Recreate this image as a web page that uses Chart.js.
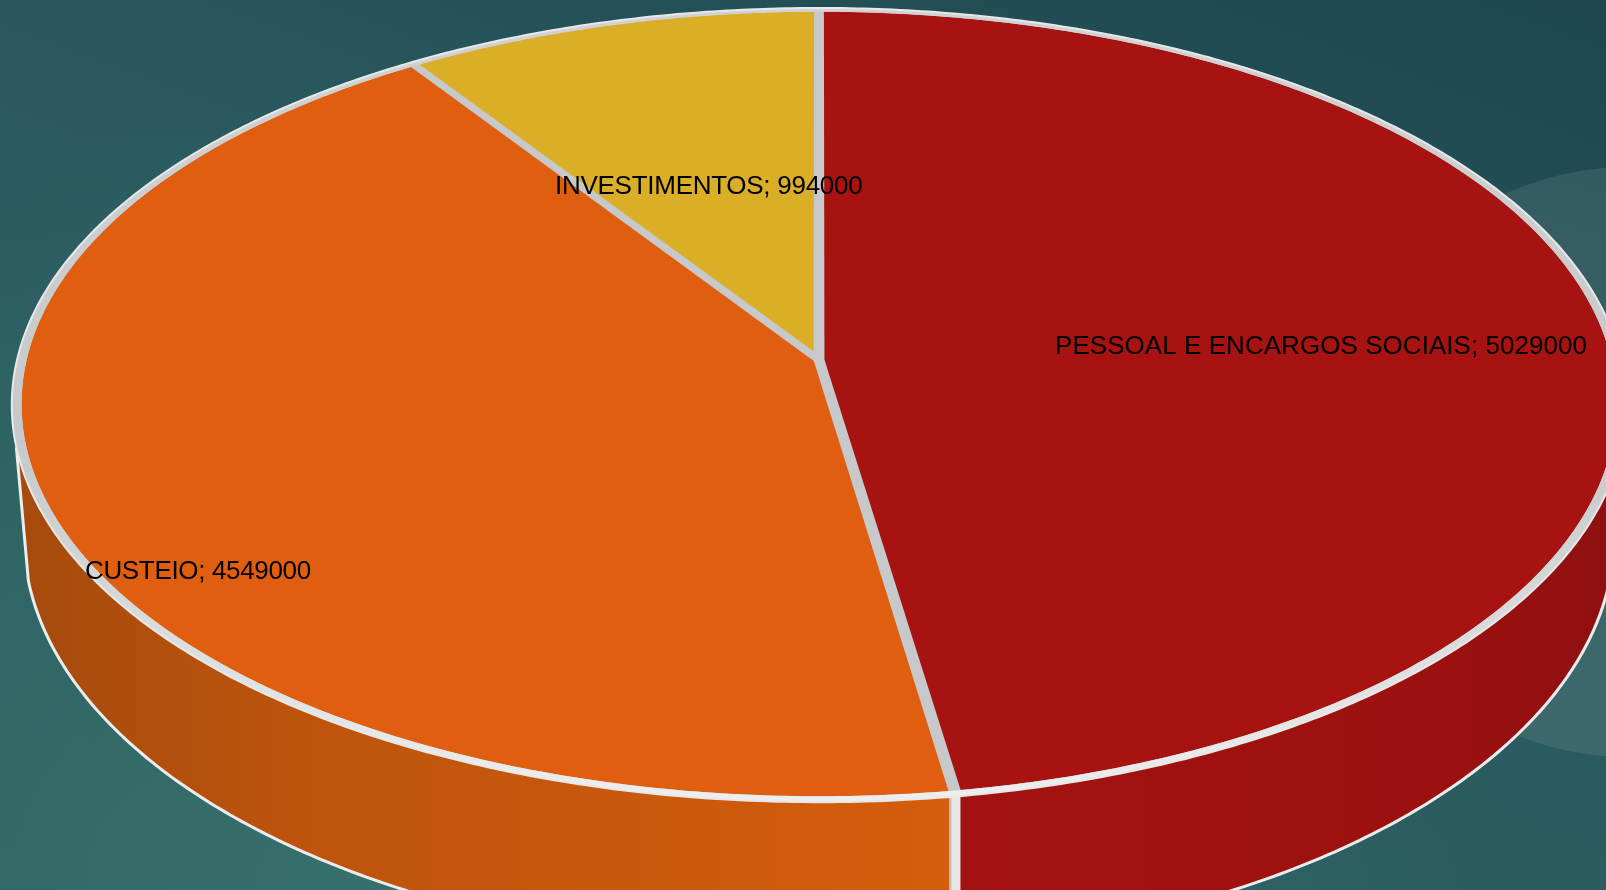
<!DOCTYPE html>
<html><head><meta charset="utf-8">
<script src="https://cdn.jsdelivr.net/npm/chart.js@4"></script>
<style>
html,body{margin:0;padding:0;width:1606px;height:890px;overflow:hidden}
body{position:relative;background:
 radial-gradient(ellipse 1100px 800px at 420px 900px,#36706c 0%,rgba(54,112,108,0) 100%),
 linear-gradient(200deg,#1d464e 0%,#2a5a5f 45%,#2c6062 100%)}
#blob{position:absolute;left:1333px;top:167px;width:590px;height:590px;border-radius:50%;background:rgba(255,255,255,.085)}
canvas{position:absolute;left:0;top:0}
</style></head><body>
<div id="blob"></div>
<canvas id="c" width="1606" height="890"></canvas>
<script>
const categories = ["PESSOAL E ENCARGOS SOCIAIS", "CUSTEIO", "INVESTIMENTOS"];
const values = [5029000, 4549000, 994000];
const sliceColors = ["#a61311", "#e05e10", "#dbae28"];

const TOP = {cx:819, y0:360, R:802, Rs:392, p:0.1135};
const BASE = {cx:819, y0:489.6, R:790, Rs:408.8, p:0.1135};
const project = (g,r,a)=>{const X=r*Math.cos(a),Y=r*Math.sin(a),w=1-g.p*Y;
  return [g.cx+g.R*X/w, g.y0+g.Rs*Y/w];};
const arcPts=(g,r,a0,a1)=>{const n=Math.max(2,Math.ceil(Math.abs(a1-a0)/0.01)),o=[];
  for(let i=0;i<=n;i++)o.push(project(g,r,a0+(a1-a0)*i/n));return o;};
const path=(ctx,pts,close)=>{ctx.beginPath();pts.forEach((q,i)=>i?ctx.lineTo(q[0],q[1]):ctx.moveTo(q[0],q[1]));if(close)ctx.closePath();};

const WALL_MIN=12.55*Math.PI/180, WALL_MAX=167.45*Math.PI/180;
const wallStops=[
  [[954,"#a31210"],[1450,"#9b110f"],[1606,"#8f1011"]],
  [[30,"#a64b0d"],[300,"#bd540d"],[650,"#c9590c"],[950,"#d55d0c"]]
];
const labelPos=[[1055,354],[85,579],[555,194]];
const labelSpacing=[0.05,-0.34,-0.27];

const pie3d={id:"pie3d",
  beforeDatasetsDraw(chart){
    const ctx=chart.ctx, arcs=chart.getDatasetMeta(0).data;
    ctx.save();
    // side walls
    arcs.forEach((arc,i)=>{
      const a0=Math.max(arc.startAngle,WALL_MIN),a1=Math.min(arc.endAngle,WALL_MAX);
      if(a1<=a0)return;
      const pts=arcPts(TOP,1,a0,a1).concat(arcPts(BASE,1,a1,a0));
      const g=ctx.createLinearGradient(0,0,1606,0);
      (wallStops[i]||[]).forEach(s=>g.addColorStop(s[0]/1606,s[1]));
      ctx.fillStyle=wallStops[i]?g:arc.options.backgroundColor;
      path(ctx,pts,true);ctx.fill();
    });
    // wall outline
    ctx.strokeStyle="#ececec";ctx.lineWidth=3;ctx.lineJoin="round";
    path(ctx,[project(TOP,1,WALL_MAX)].concat(arcPts(BASE,1,WALL_MAX,WALL_MIN)).concat([project(TOP,1,WALL_MIN)]));ctx.stroke();
    // wall separators
    arcs.forEach(arc=>{
      const a=arc.endAngle;
      if(a>WALL_MIN&&a<WALL_MAX){
        const t=project(TOP,1,a),b=project(BASE,1,a);
        const xL=t[0]-7,w=11;
        ctx.fillStyle="#e6e6e6";
        ctx.fillRect(xL,t[1],w,b[1]-t[1]);
        ctx.fillStyle="#bfc1c3";
        ctx.fillRect(xL,t[1],2,b[1]-t[1]);
      }
    });
    // top disc in rim grey
    const disc=arcPts(TOP,1,0,Math.PI*2);
    ctx.fillStyle="#c6c8ca";path(ctx,disc,true);ctx.fill();
    // slices, inset so that the rim and the separators show
    const rIn=0.988,d=0.0068;
    arcs.forEach(arc=>{
      const s=arc.startAngle,e=arc.endAngle,mid=(s+e)/2,half=(e-s)/2;
      const da=Math.asin(d/rIn), ad=d/Math.sin(half);
      const apex=project(TOP,ad,mid);
      const pts=[apex].concat(arcPts(TOP,rIn,s+da,e-da));
      ctx.fillStyle=arc.options.backgroundColor;
      path(ctx,pts,true);ctx.fill();
    });
    // lighter rim toward the front
    const rim=ctx.createLinearGradient(0,0,0,810);
    rim.addColorStop(0,"#d0d2d4");rim.addColorStop(.55,"#c6c8ca");rim.addColorStop(.8,"#dcdddd");rim.addColorStop(1,"#efefef");
    ctx.fillStyle=rim;
    path(ctx,arcPts(TOP,1,0,Math.PI*2).concat(arcPts(TOP,rIn,Math.PI*2,0)),true);ctx.fill();
    ctx.strokeStyle="#e8e8e8";ctx.lineWidth=2;path(ctx,disc,true);ctx.stroke();
    // labels
    ctx.fillStyle="#000";ctx.font='26px "Liberation Sans", Arial, sans-serif';
    ctx.textAlign="left";ctx.textBaseline="alphabetic";
    categories.forEach((c,i)=>{
      if("letterSpacing" in ctx)ctx.letterSpacing=labelSpacing[i]+"px";
      ctx.fillText(c+"; "+values[i],labelPos[i][0],labelPos[i][1]);
    });
    ctx.restore();
    return false;
  }
};

new Chart(document.getElementById("c"),{
  type:"pie",
  data:{labels:categories,datasets:[{data:values,backgroundColor:sliceColors,borderWidth:0}]},
  options:{responsive:false,animation:false,
    layout:{padding:0},
    plugins:{legend:{display:false},tooltip:{enabled:false},title:{display:false}}},
  plugins:[pie3d]
});
</script>
</body></html>
